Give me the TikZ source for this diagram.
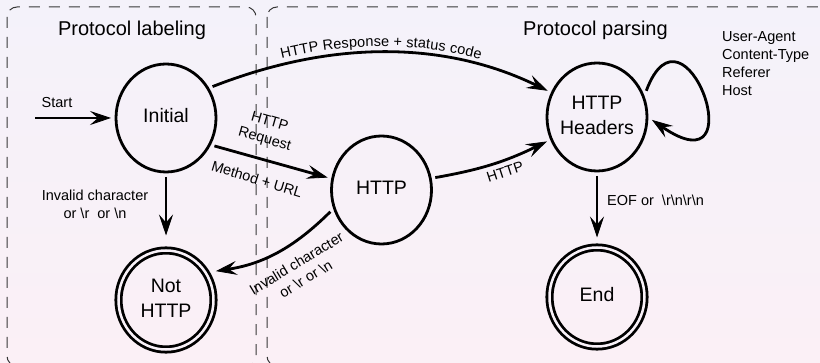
\documentclass[tikz,border=0pt]{standalone}
\usepackage{fontspec}
\setmainfont{Liberation Sans}
\usetikzlibrary{arrows.meta,shapes.geometric,decorations.text}
\definecolor{bgtop}{RGB}{244,242,250}
\definecolor{bgbot}{RGB}{251,240,246}
\definecolor{dashc}{RGB}{55,55,55}
\newcommand{\stt}[1]{\makebox[0pt]{\begin{tabular}{@{}c@{}}#1\end{tabular}}}
\tikzset{
  state/.style={ellipse, draw, line width=2.8pt, inner sep=0pt, outer sep=5pt,
    minimum width=100pt, minimum height=108pt, font=\fontsize{19.5}{25}\selectfont},
  final/.style={state, double=bgtop!40!bgbot, double distance=2.5pt,
    minimum width=95pt, minimum height=99pt},
  arr/.style={line width=2.8pt, -{Stealth[length=21pt,width=14pt,inset=8pt,line width=0.8pt]}},
  lbl/.style={font=\fontsize{14.5}{18}\selectfont, inner sep=0pt},
  ttl/.style={font=\fontsize{20}{24}\selectfont, inner sep=0pt, anchor=base},
  zone/.style={draw=dashc, line width=1pt, dash pattern=on 11pt off 9pt, rounded corners=10pt}
}
\begin{document}
\begin{tikzpicture}[x=1pt,y=-1pt]
\useasboundingbox (0,0) rectangle (820,363);
\clip (0,0) rectangle (820,363);
\shade[top color=bgtop, bottom color=bgbot] (0,0) rectangle (820,363);
\draw[zone] (7,7) rectangle (256,366);
\draw[zone] (267,7) rectangle (835,366);
\node[ttl] (t1) at (132,36) {Protocol labeling};
\node[ttl] (t2) at (595.5,36) {Protocol parsing};

\node[state] (ini) at (166,118) {\stt{Initial}};
\node[final] (not) at (166,300) {\stt{Not\\HTTP}};
\node[state] (http) at (381.5,190) {\stt{HTTP}};
\node[state] (hh) at (597,117) {\stt{HTTP\\Headers}};
\node[final] (end) at (597,297) {\stt{End}};
\coordinate (s) at (35,118);

\draw[arr] (s) -- (ini.west);
\draw[arr, shorten >=10pt] (ini.south) -- (not.north);
\draw[arr, shorten >=5pt] (hh.south) -- (end.north);
\draw[arr] (ini.-30) -- (http.167);
\draw[arr] (http.13) to[bend right=8] (hh.206);
\draw[arr, shorten >=5pt] (http.203) to[bend left=18] (not.32);
\draw[arr] (ini.34) .. controls +(120,-47) and +(-103,-50) .. (hh.152);
\path[decorate, decoration={text along path, text align=center, raise=6pt,
  text={|\fontsize{14.5}{18}\selectfont|HTTP Response + status code}}]
  (ini.34) .. controls +(120,-47) and +(-103,-50) .. (hh.152);
\draw[arr] (hh.28) .. controls +(38,-102) and +(105,72) .. (hh.-3);

\node[lbl] (l1) at (57,103) {Start};
\node[lbl, align=center] (l2) at (95,204) {Invalid character\\or \textbackslash r\ \ or \textbackslash n};
\node[lbl, align=center, rotate=-16] (l3) at (267,131) {HTTP\\Request};
\node[lbl, rotate=-17] (l4) at (257,179) {Method + URL};
\node[lbl, rotate=18] (l5) at (505,172) {HTTP};
\node[lbl, align=center, rotate=31] (l6) at (301,271) {Invalid character\\or \textbackslash r or \textbackslash n};
\node[lbl, anchor=west] (l7) at (607,200) {EOF or\ \ \textbackslash r\textbackslash n\textbackslash r\textbackslash n};
\node[lbl, anchor=west, align=left] (l8) at (722,64) {User-Agent\\Content-Type\\Referer\\Host};
\end{tikzpicture}
\end{document}
